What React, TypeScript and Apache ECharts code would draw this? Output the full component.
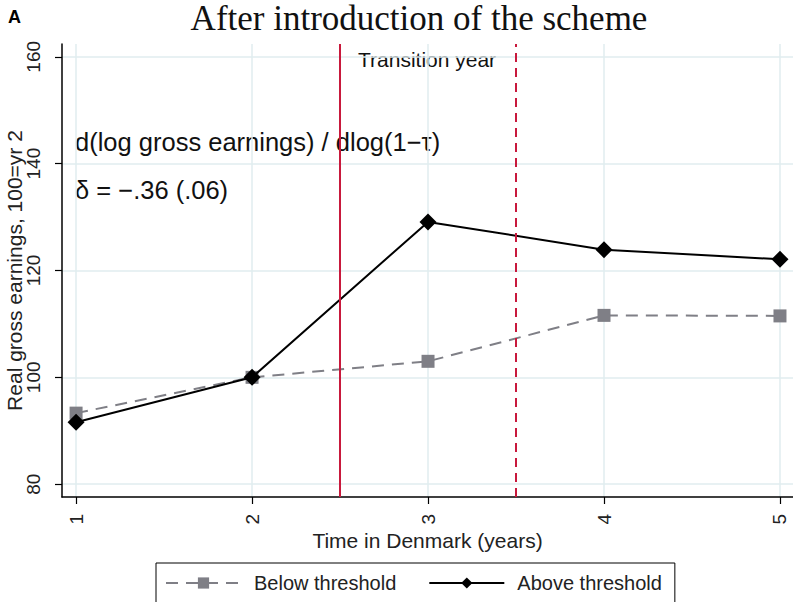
import React, { useEffect, useRef } from "react";
import * as echarts from "echarts";

const years = [1, 2, 3, 4, 5];
const belowThreshold = [93.3, 100, 103.0, 111.6, 111.5];
const aboveThreshold = [91.6, 100, 129.1, 123.9, 122.1];
const yTicks = [80, 100, 120, 140, 160];
const transitionStart = 2.5;
const transitionEnd = 3.5;

const SANS = "'Liberation Sans', Arial, Helvetica, sans-serif";

export default function App() {
  const ref = useRef<HTMLDivElement>(null);
  useEffect(() => {
    if (!ref.current) return;
    const chart = echarts.init(ref.current, null, { renderer: "svg" });
    const gridColor = "#e0ecef";
    const red = "#c8193c";
    chart.setOption({
      animation: false,
      backgroundColor: "#ffffff",
      textStyle: { fontFamily: SANS },
      grid: { left: 62, right: 0, top: 44, bottom: 105, containLabel: false, outerBoundsMode: "none" },
      xAxis: {
        type: "value",
        min: 0.92,
        max: 5.074,
        name: "Time in Denmark (years)",
        nameLocation: "middle",
        nameGap: 33,
        nameMoveOverlap: false,
        nameTextStyle: { fontSize: 21, color: "#222", fontFamily: SANS, verticalAlign: "top" },
        axisLine: { show: true, onZero: false, lineStyle: { color: "#000", width: 1.5 } },
        axisTick: { show: true, length: 7, lineStyle: { color: "#000", width: 1.2 }, customValues: years },
        axisLabel: { rotate: 90, fontSize: 19, color: "#222", margin: 17, customValues: years, fontFamily: SANS },
        splitLine: { show: true, lineStyle: { color: gridColor, width: 1.5 } },
      },
      yAxis: {
        type: "value",
        min: 77.6,
        max: 162.4,
        name: "Real gross earnings, 100=yr 2",
        nameLocation: "middle",
        nameGap: 48,
        nameRotate: 90,
        nameMoveOverlap: false,
        nameTextStyle: { fontSize: 21, color: "#222", fontFamily: SANS, verticalAlign: "middle" },
        axisLine: { show: true, onZero: false, lineStyle: { color: "#000", width: 1.5 } },
        axisTick: { show: true, length: 7, lineStyle: { color: "#000", width: 1.2 }, customValues: yTicks },
        axisLabel: {
          rotate: 90,
          fontSize: 19,
          color: "#222",
          margin: 19,
          verticalAlign: "bottom",
          align: "center",
          customValues: yTicks,
          fontFamily: SANS,
        },
        splitLine: { show: true, lineStyle: { color: gridColor, width: 1.5 } },
      },
      legend: {
        show: true,
        left: 156,
        top: 563,
        orient: "horizontal",
        borderColor: "#000",
        borderWidth: 1,
        padding: [10, 13, 20, 9],
        itemGap: 32,
        itemWidth: 75,
        itemHeight: 14,
        textStyle: { fontSize: 20, color: "#222", fontFamily: SANS, padding: [0, 0, 0, 8] },
        data: ["Below threshold", "Above threshold"],
      },
      series: [
        {
          name: "Below threshold",
          type: "line",
          data: years.map((x, i) => [x, belowThreshold[i]]),
          symbol: "rect",
          symbolSize: 13,
          itemStyle: { color: "#7f7f86" },
          lineStyle: { color: "#7f7f86", width: 2, type: [12, 8] },
          z: 3,
          markLine: {
            silent: true,
            symbol: "none",
            label: { show: false },
            data: [
              { xAxis: transitionStart, lineStyle: { color: red, width: 2, type: "solid" } },
              { xAxis: transitionEnd, lineStyle: { color: red, width: 2, type: [9, 6] } },
            ],
          },
        },
        {
          name: "Above threshold",
          type: "line",
          data: years.map((x, i) => [x, aboveThreshold[i]]),
          symbol: "diamond",
          symbolSize: 17,
          itemStyle: { color: "#000" },
          lineStyle: { color: "#000", width: 2 },
          z: 4,
        },
      ],
      graphic: [
        {
          type: "text",
          left: 8,
          top: 8,
          style: { text: "A", fontSize: 18, fontWeight: "bold", fontFamily: SANS, fill: "#000" },
        },
        {
          type: "text",
          x: 419,
          y: 18,
          style: {
            text: "After introduction of the scheme",
            fontSize: 35,
            fontFamily: "'Liberation Serif', 'Times New Roman', serif",
            fill: "#111",
            align: "center",
            verticalAlign: "middle",
          },
        },
        {
          type: "text",
          x: 358,
          y: 59,
          style: { text: "Transition year", fontSize: 21, fontFamily: SANS, fill: "#111", verticalAlign: "middle" },
        },
        {
          type: "text",
          x: 75,
          y: 142,
          style: {
            text: "d(log gross earnings) / dlog(1\u2212\u03c4)",
            fontSize: 25.5,
            fontFamily: SANS,
            fill: "#111",
            verticalAlign: "middle",
          },
        },
        {
          type: "text",
          x: 75,
          y: 190,
          style: {
            text: "\u03b4 = \u2212.36 (.06)",
            fontSize: 25.5,
            fontFamily: SANS,
            fill: "#111",
            verticalAlign: "middle",
          },
        },
      ],
    });
    return () => chart.dispose();
  }, []);
  return (
    <div
      ref={ref}
      style={{ position: "fixed", left: 0, top: 0, width: 793, height: 602, background: "#fff" }}
    />
  );
}
